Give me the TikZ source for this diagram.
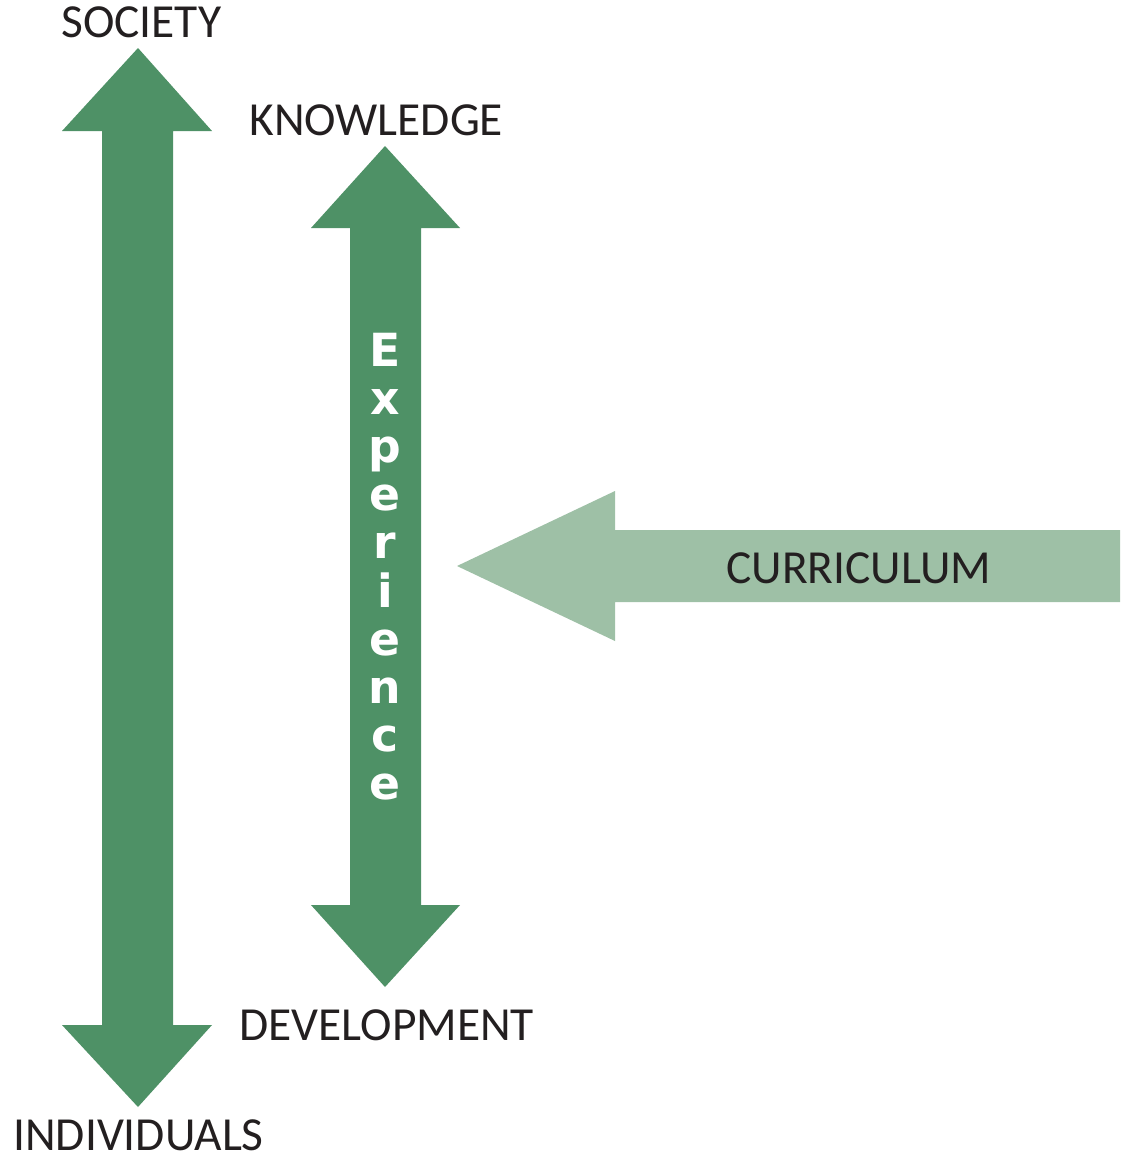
\documentclass[tikz,border=0pt]{standalone}
\usepackage{fontspec}
\setmainfont{Carlito}
\newfontfamily\letterfont{DejaVu Sans}
\usetikzlibrary{positioning}
\definecolor{axisgreen}{RGB}{78,145,102}
\definecolor{curgreen}{RGB}{158,192,166}
\definecolor{labelink}{RGB}{35,31,32}
\tikzset{
  axislabel/.style={font=\fontsize{27}{30}\selectfont,text=labelink,inner sep=0pt,anchor=base west},
  letter/.style={font=\letterfont\bfseries\fontsize{26}{28}\selectfont,text=white,inner sep=0pt,anchor=base},
  bigarrow/.style={fill=axisgreen},
  cursarrow/.style={fill=curgreen}
}

\begin{document}
\begin{tikzpicture}[x=0.02cm,y=-0.02cm]
\useasboundingbox (0,0) rectangle (1120,1163);

% Tips of the arrows
\coordinate (socTip) at (138,48);
\coordinate (indTip) at (138,1107);
\coordinate (knoTip) at (385,146);
\coordinate (devTip) at (385,987);
\coordinate (curTip) at (457,566);

% Society -- individuals axis
\fill[bigarrow] (socTip) -- (212,131) -- (173,131) -- (173,1025) -- (212,1025)
  -- (indTip) -- (62,1025) -- (102,1025) -- (102,131) -- (62,131) -- cycle;

% Knowledge -- development axis
\fill[bigarrow] (knoTip) -- (460,228) -- (421,228) -- (421,905) -- (460,905)
  -- (devTip) -- (311,905) -- (350,905) -- (350,228) -- (311,228) -- cycle;

% Curriculum arrow
\fill[cursarrow] (curTip) -- (615,491) -- (615,530) -- (1120,530) -- (1120,602)
  -- (615,602) -- (615,641) -- cycle;

% Labels
\node[axislabel] (society) at (61,37) {SOCIETY};
\node[axislabel] (knowledge) at (249,135) {KNOWLEDGE};
\node[axislabel] (curriculum) at (726,583) {CURRICULUM};
\node[axislabel] (development) at (239,1040) {DEVELOPMENT};
\node[axislabel] (individuals) at (13,1150) {INDIVIDUALS};

% Experience, one letter under the other
\foreach \l [count=\i] in {E,x,p,e,r,i,e,n,c,e}
  \node[letter] (exp\i) at (385,317.8+48.2*\i) {\l};

\end{tikzpicture}
\end{document}
